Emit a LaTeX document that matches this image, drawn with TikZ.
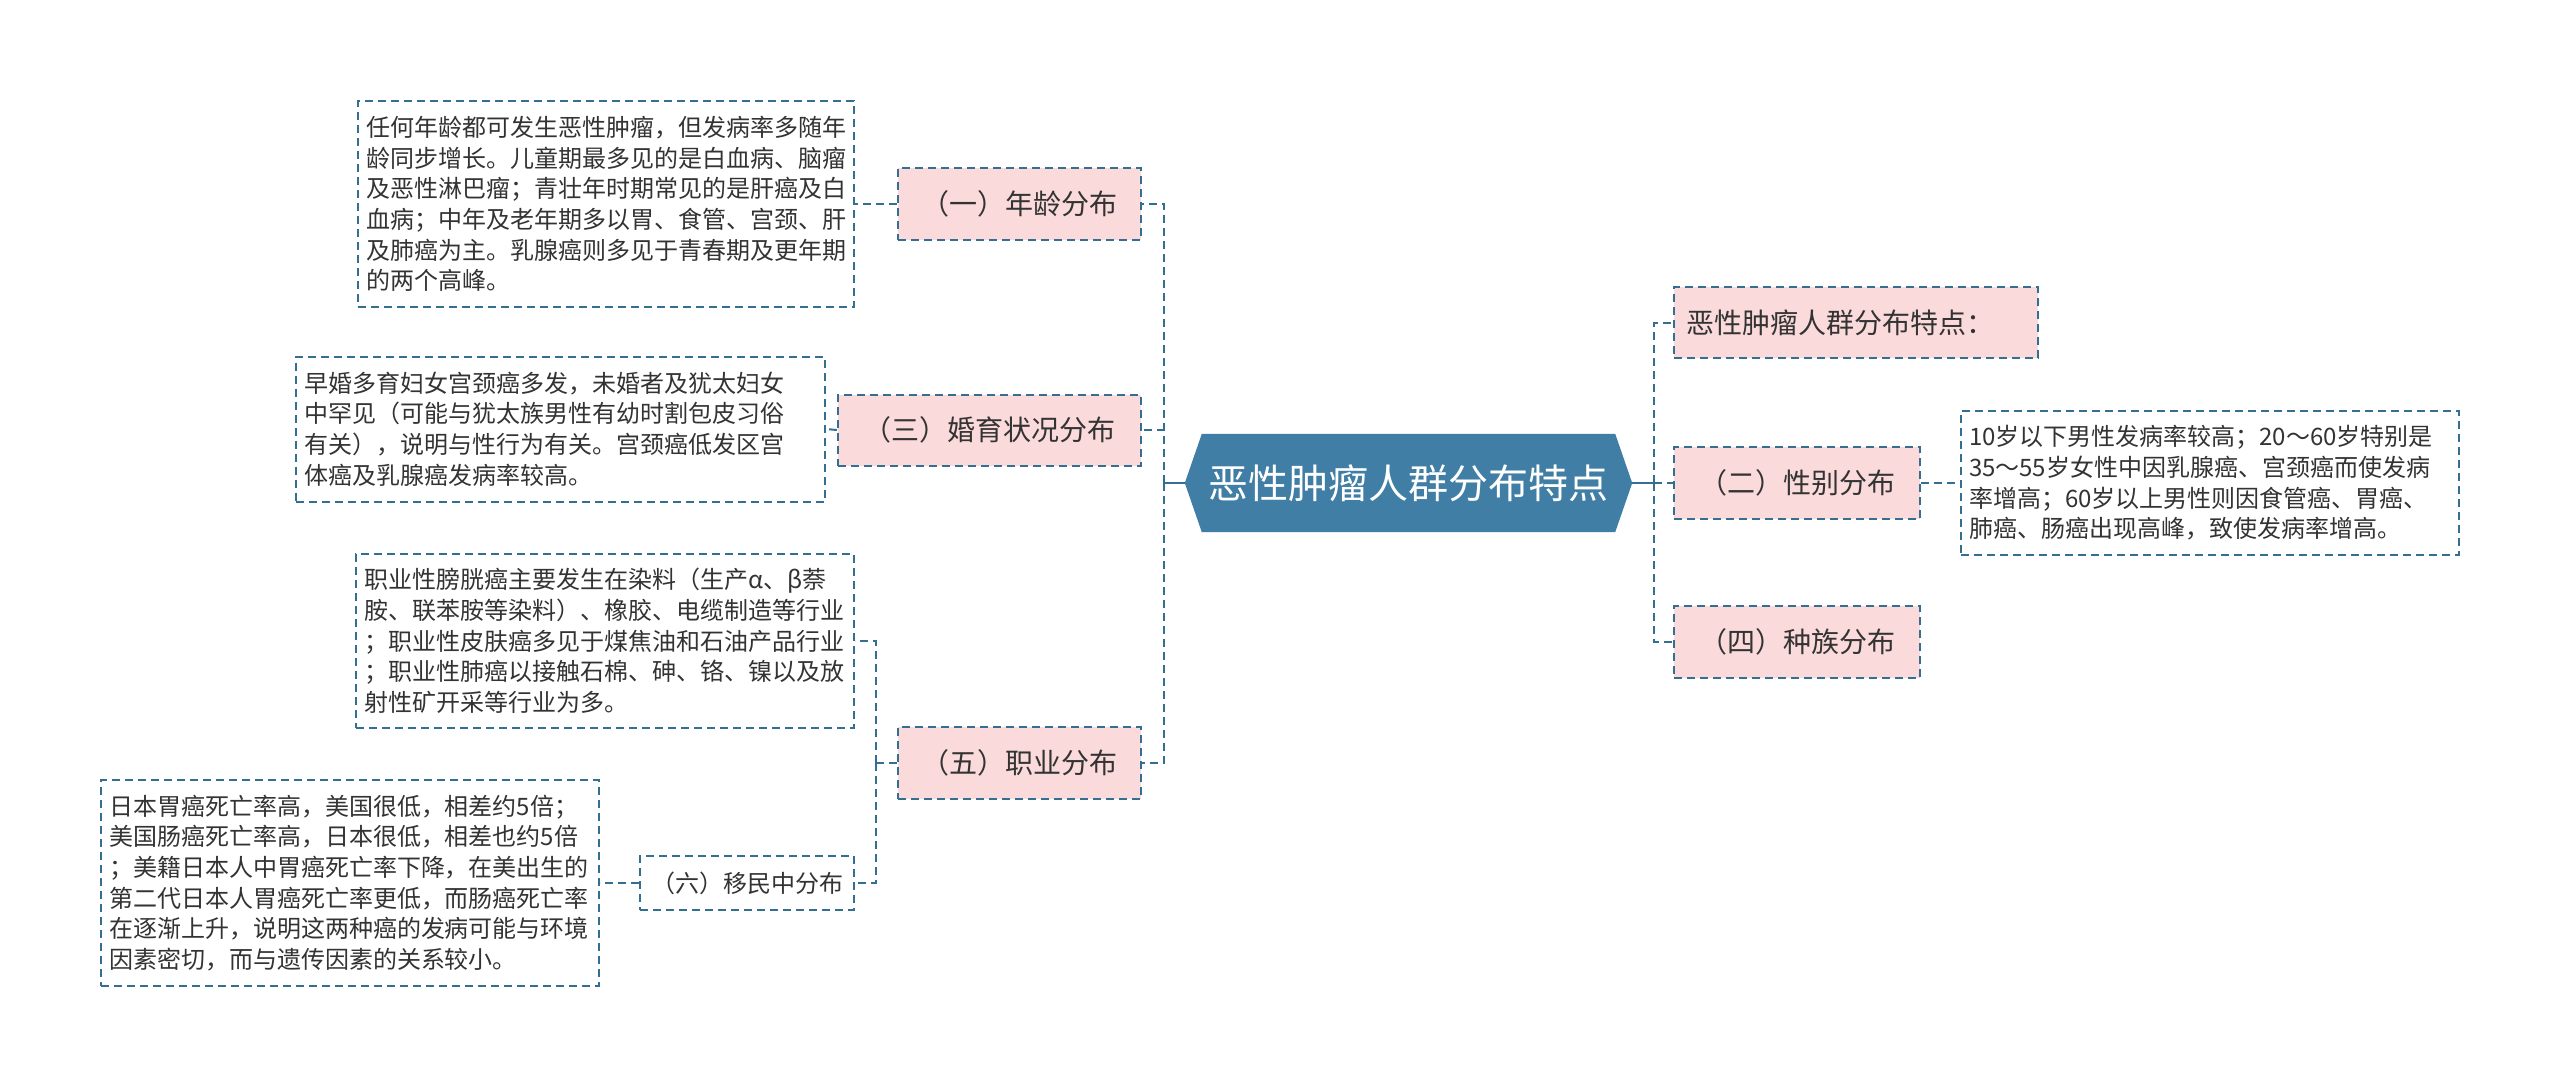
\documentclass[tikz,border=0pt]{standalone}
\usepackage{fontspec}
\setmainfont{Noto Sans CJK SC}
\usetikzlibrary{calc,backgrounds}
\definecolor{lnblue}{HTML}{346E91}
\definecolor{hubblue}{HTML}{407EA5}
\definecolor{pinkbg}{HTML}{FADADA}
\definecolor{txt}{HTML}{333333}
\begin{document}
\begin{tikzpicture}[x=1pt,y=-1pt,
 lnk/.style={draw=lnblue,line width=2pt,dash pattern=on 8pt off 5pt},
 topic/.style={lnk,fill=pinkbg,text=txt,font=\fontsize{28}{34}\selectfont,inner sep=0pt},
 note/.style={lnk,text=txt,font=\fontsize{24}{30.7}\selectfont,align=left,inner xsep=8pt,inner ysep=0pt}]
 \useasboundingbox(0,0)rectangle(2560,1087);
 % centre
 \node(hub)[minimum width=413,minimum height=98,inner sep=0pt,text=white,font=\fontsize{40}{48}\selectfont] at (1408.5,483){恶性肿瘤人群分布特点};
 \coordinate(hubL) at ($(hub.west)+(-17,0)$);
 \coordinate(hubR) at ($(hub.east)+(17,0)$);
 \begin{scope}[on background layer]
  \fill[white](0,0)rectangle(2560,1087);
  \fill[hubblue](hub.north west)--(hub.north east)--(hubR)--(hub.south east)--(hub.south west)--(hubL)--cycle;
 \end{scope}
 % left side
 \node(age)[topic,minimum width=243,minimum height=72] at (1019.5,204){（一）年龄分布};
 \node(marr)[topic,minimum width=303,minimum height=71] at (989.5,430){（三）婚育状况分布};
 \node(job)[topic,minimum width=243,minimum height=72] at (1019.5,763){（五）职业分布};
 \node(migr)[lnk,text=txt,font=\fontsize{24}{30}\selectfont,inner sep=0pt,minimum width=214,minimum height=54] at (747,883){（六）移民中分布};
 \node(ageT)[note,text width=480,minimum height=206] at (606,204){任何年龄都可发生恶性肿瘤，但发病率多随年\\龄同步增长。儿童期最多见的是白血病、脑瘤\\及恶性淋巴瘤；青壮年时期常见的是肝癌及白\\血病；中年及老年期多以胃、食管、宫颈、肝\\及肺癌为主。乳腺癌则多见于青春期及更年期\\的两个高峰。};
 \node(marrT)[note,text width=513,minimum height=145] at (560.5,429){早婚多育妇女宫颈癌多发，未婚者及犹太妇女\\中罕见（可能与犹太族男性有幼时割包皮习俗\\有关），说明与性行为有关。宫颈癌低发区宫\\体癌及乳腺癌发病率较高。};
 \node(jobT)[note,text width=482,minimum height=174] at (605,641){职业性膀胱癌主要发生在染料（生产α、β萘\\胺、联苯胺等染料）、橡胶、电缆制造等行业\\；职业性皮肤癌多见于煤焦油和石油产品行业\\；职业性肺癌以接触石棉、砷、铬、镍以及放\\射性矿开采等行业为多。};
 \node(migrT)[note,text width=482,minimum height=206] at (350,883){日本胃癌死亡率高，美国很低，相差约5倍；\\美国肠癌死亡率高，日本很低，相差也约5倍\\；美籍日本人中胃癌死亡率下降，在美出生的\\第二代日本人胃癌死亡率更低，而肠癌死亡率\\在逐渐上升，说明这两种癌的发病可能与环境\\因素密切，而与遗传因素的关系较小。};
 % right side
 \node(summ)[topic,minimum width=364,minimum height=71,align=left,text width=340] at (1856,322.5){恶性肿瘤人群分布特点：};
 \node(sex)[topic,minimum width=246,minimum height=72] at (1797,483){（二）性别分布};
 \node(race)[topic,minimum width=246,minimum height=72] at (1797,642){（四）种族分布};
 \node(sexT)[note,text width=482,minimum height=144] at (2210,483){10岁以下男性发病率较高；20～60岁特别是\\35～55岁女性中因乳腺癌、宫颈癌而使发病\\率增高；60岁以上男性则因食管癌、胃癌、\\肺癌、肠癌出现高峰，致使发病率增高。};
 % connectors
 \coordinate(lt) at ($(hubL)+(-21,0)$);
 \coordinate(rt) at ($(hubR)+(22,0)$);
 \coordinate(jt) at ($(job.west)+(-21,0)$);
 \draw[lnblue,line width=2pt](hubL)--(lt);
 \draw[lnblue,line width=2pt](hubR)--(rt);
 \foreach \n in {age,marr,job} \draw[lnk](lt)|-(\n.east);
 \foreach \n in {summ,sex,race} \draw[lnk](rt)|-(\n.west);
 \draw[lnk](age.west)--(ageT.east);
 \draw[lnk](marr.west)--(marrT.east);
 \draw[lnk](job.west)--(jt);
 \foreach \n in {jobT,migr} \draw[lnk](jt)|-(\n.east);
 \draw[lnk](migr.west)--(migrT.east);
 \draw[lnk](sex.east)--(sexT.west);
\end{tikzpicture}
\end{document}
